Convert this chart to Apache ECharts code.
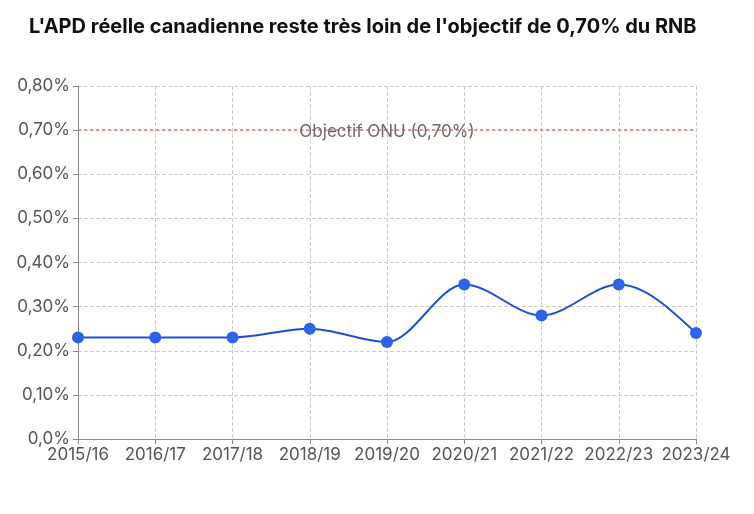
<!DOCTYPE html>
<html><head><meta charset="utf-8">
<script src="https://cdn.jsdelivr.net/npm/echarts@6/dist/echarts.min.js"></script>
<style>html,body{margin:0;padding:0;background:#fff}#c{width:754px;height:514px}</style>
</head><body><div id="c"></div>
<script>
const categories = ['2015/16','2016/17','2017/18','2018/19','2019/20','2020/21','2021/22','2022/23','2023/24'];
const apdValues = [0.23,0.23,0.23,0.25,0.22,0.35,0.28,0.35,0.24];
const targetValue = 0.70;
const targetLabel = 'Objectif ONU (0,70%)';
const titleText = "L'APD réelle canadienne reste très loin de l'objectif de 0,70% du RNB";

const chart = echarts.init(document.getElementById('c'));
const fmt = v => v === 0 ? '0,0%' : v.toFixed(2).replace('.', ',') + '%';
const sign = x => x < 0 ? -1 : 1;

// monotone cubic (Fritsch-Carlson / d3.curveMonotoneX) drawn through axis coordinates
function renderSpline(params, api) {
  if (params.dataIndex !== 0) return null;
  const pts = apdValues.map((v, i) => api.coord([i, v]));
  const n = pts.length;
  const slope = [];
  for (let i = 0; i < n - 1; i++) slope.push((pts[i + 1][1] - pts[i][1]) / (pts[i + 1][0] - pts[i][0]));
  const t = new Array(n);
  for (let i = 1; i < n - 1; i++) {
    const h0 = pts[i][0] - pts[i - 1][0], h1 = pts[i + 1][0] - pts[i][0];
    const s0 = slope[i - 1], s1 = slope[i];
    const p = (s0 * h1 + s1 * h0) / (h0 + h1);
    t[i] = (sign(s0) + sign(s1)) * Math.min(Math.abs(s0), Math.abs(s1), 0.5 * Math.abs(p)) || 0;
  }
  t[0] = (3 * slope[0] - t[1]) / 2;
  t[n - 1] = (3 * slope[n - 2] - t[n - 2]) / 2;
  const children = [];
  for (let i = 0; i < n - 1; i++) {
    const dx = (pts[i + 1][0] - pts[i][0]) / 3;
    children.push({
      type: 'bezierCurve',
      shape: { x1: pts[i][0], y1: pts[i][1], x2: pts[i + 1][0], y2: pts[i + 1][1],
        cpx1: pts[i][0] + dx, cpy1: pts[i][1] + dx * t[i],
        cpx2: pts[i + 1][0] - dx, cpy2: pts[i + 1][1] - dx * t[i + 1] },
      style: { stroke: '#1d4ed8', lineWidth: 2, fill: null }
    });
  }
  return { type: 'group', children };
}

chart.setOption({
  animation: false,
  textStyle: { fontFamily: 'Inter' },
  title: { text: titleText, left: 24, top: 12,
    textStyle: { fontFamily: 'Inter', fontSize: 20, fontWeight: 'bold', color: '#111' } },
  grid: { left: 78, right: 58, top: 86, bottom: 75 },
  xAxis: {
    type: 'category', data: categories, boundaryGap: false,
    axisLine: { lineStyle: { color: '#888' } },
    axisTick: { show: true, alignWithLabel: true, lineStyle: { color: '#888' } },
    axisLabel: { color: '#555', fontSize: 17, margin: 7, interval: 0 },
    splitLine: { show: true, lineStyle: { type: 'dashed', color: '#ccc' } }
  },
  yAxis: {
    type: 'value', min: 0, max: 0.8, interval: 0.1,
    axisLine: { show: true, lineStyle: { color: '#888' } },
    axisTick: { show: true, lineStyle: { color: '#888' } },
    axisLabel: { color: '#555', fontSize: 17, margin: 8, formatter: fmt },
    splitLine: { show: true, lineStyle: { type: 'dashed', color: '#ccc' } }
  },
  series: [{
    type: 'custom', data: apdValues.map((v, i) => [i, v]), renderItem: renderSpline, z: 2, silent: true
  }, {
    type: 'line', data: apdValues, z: 3,
    symbol: 'circle', symbolSize: 12,
    lineStyle: { width: 0, opacity: 0 },
    itemStyle: { color: '#2f63e6' },
    markLine: {
      silent: true, symbol: 'none',
      lineStyle: { color: '#e57373', type: [3, 3], width: 1.5, opacity: 1 },
      label: { show: true, position: 'middle', formatter: targetLabel, color: '#6b6b6b', fontSize: 17, distance: -10 },
      data: [{ yAxis: targetValue }]
    }
  }]
});
</script></body></html>
